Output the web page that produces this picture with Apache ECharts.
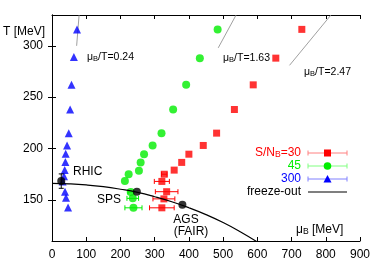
<!DOCTYPE html>
<html>
<head>
<meta charset="utf-8">
<script src="https://cdn.jsdelivr.net/npm/echarts@6/dist/echarts.min.js"></script>
<style>html,body{margin:0;padding:0;background:#fff}#c{width:382px;height:267px}</style>
</head>
<body>
<div id="c"></div>
<script>
// ---- data ----
const xTicks = [0,100,200,300,400,500,600,700,800,900];
const yTicks = [150,200,250,300];

const redMu  = [730,654,588,533,481,442,400,379,357,328,321,335,327,321];
const redT   = [316,288,262,238,215,203,194.5,186.5,179,175,168,158,151,142.3];
const redErr = [0,0,0,0,0,0,0,0,0,8,22,33,32,36];

const greenMu  = [484,432,392,354,320,294,269,259,254,224,213,230,236,238];
const greenT   = [316,288,262,238,215,203,194.5,186.5,178.5,175,168.5,157.7,151.5,142.3];
const greenErr = [0,0,0,0,0,0,0,0,0,0,0,8,17,25];

const blueMu = [73,64,57,53,49,44,40,39,37,35,31,38,41,47];
const blueT  = [316,289,262,238,215,203,195,187,179,173,168,158,152,142.5];

const foMu = [0,50,100,150,200,250,300,350,400,450,500,550,600];
const foT  = [166,165.6,164.6,162.9,160.4,157.3,153.1,148.2,142.4,135.7,128,119.1,109.1];

const fzName = ['RHIC','SPS','AGS'];
const fzMu = [27,248,381];
const fzT  = [168.3,157.9,145.4];
const fzTErr = [7,0,0];

const ratioVals = ['0.24','1.63','2.47'];
const ratioNum  = [0.24,1.63,2.47];
const ratioTLow = [300,298,281];
const ratioTHigh = [330,330,330];

// ---- build ----
const FONT = '"Liberation Sans", Arial, Helvetica, sans-serif';
const zip = (a,b) => a.map((v,i)=>[v,b[i]]);
const errData = (mu,T,e) => mu.map((m,i)=>[m-e[i], m+e[i], T[i]]).filter((d,i)=>e[i]>0);

function hErr(color){
  return function(params, api){
    const y = api.value(2);
    const p1 = api.coord([api.value(0), y]);
    const p2 = api.coord([api.value(1), y]);
    const c = 2.5;
    const st = {stroke: color, lineWidth: 1};
    return {type:'group', children:[
      {type:'line', shape:{x1:p1[0],y1:p1[1],x2:p2[0],y2:p2[1]}, style:st},
      {type:'line', shape:{x1:p1[0],y1:p1[1]-c,x2:p1[0],y2:p1[1]+c}, style:st},
      {type:'line', shape:{x1:p2[0],y1:p2[1]-c,x2:p2[0],y2:p2[1]+c}, style:st}
    ]};
  };
}
function vErr(params, api){
  const x = api.value(0);
  const p1 = api.coord([x, api.value(1)]);
  const p2 = api.coord([x, api.value(2)]);
  const c = 2.5;
  const st = {stroke:'#000', lineWidth:1};
  return {type:'group', children:[
    {type:'line', shape:{x1:p1[0],y1:p1[1],x2:p2[0],y2:p2[1]}, style:st},
    {type:'line', shape:{x1:p1[0]-c,y1:p1[1],x2:p1[0]+c,y2:p1[1]}, style:st},
    {type:'line', shape:{x1:p2[0]-c,y1:p2[1],x2:p2[0]+c,y2:p2[1]}, style:st}
  ]};
}

const ratioSeries = ratioNum.map((r,i)=>({
  type:'line', xAxisIndex:0, yAxisIndex:0, silent:true, symbol:'none', z:1,
  lineStyle:{color:'#888', width:0.8},
  data:[[r*ratioTLow[i], ratioTLow[i]],[r*ratioTHigh[i], ratioTHigh[i]]]
}));

const richMu = (fs, color) => ({
  a:{fontSize:fs, fontFamily:FONT, fill:color, color:color},
  b:{fontSize:fs*0.72, fontFamily:FONT, fill:color, color:color, verticalAlign:'bottom', padding:[0,0,0,0], lineHeight:fs*0.8}
});

function label(x,y,text,color,align,fs){
  return {type:'text', x:x, y:y, z:100, style:{text:text, fill:color, font:fs+'px '+FONT, align:align||'left', verticalAlign:'middle'}};
}
function richLabel(x,y,text,color,align,fs){
  return {type:'text', x:x, y:y, z:100, style:{text:text, fill:color, fontSize:fs, fontFamily:FONT, align:align||'left', verticalAlign:'middle', rich:richMu(fs,color)}};
}

const ratioLabelPos = [[87,57],[223,58],[304,72]];
const graphics = [
  label(45,32,'T [MeV]','#000','right',12),
  richLabel(296,230,'{a|μ}{b|B}{a| [MeV]}','#000','left',12),
  label(73,172,fzName[0],'#000','left',12),
  label(97,200,fzName[1],'#000','left',12),
  label(186,220,fzName[2],'#000','center',12),
  label(191,232,'(FAIR)','#000','center',12)
];
ratioVals.forEach((v,i)=>{
  graphics.push(richLabel(ratioLabelPos[i][0], ratioLabelPos[i][1], '{a|μ}{b|B}{a|/T='+v+'}', '#000','left',10.5));
});

// legend (drawn as graphics)
const lg = [
  {txt:'{a|S/N}{b|B}{a|=30}', color:'#ff0000', bar:'#ff8080', sym:'rect', y:153},
  {txt:'45', color:'#00ee00', bar:'#80ff80', sym:'circle', y:166},
  {txt:'300', color:'#0000ff', bar:'#8080ff', sym:'tri', y:179},
  {txt:'freeze-out', color:'#000', bar:null, sym:null, y:192}
];
lg.forEach(it=>{
  if (it.txt.indexOf('{')>=0) graphics.push(richLabel(301,it.y,it.txt,it.color,'right',12));
  else graphics.push(label(301,it.y,it.txt,it.color,'right',12));
  const x1=308, x2=347, y=it.y;
  if (it.bar){
    const st={stroke:it.bar, lineWidth:1};
    graphics.push({type:'line', z:100, shape:{x1:x1,y1:y,x2:x2,y2:y}, style:st});
    graphics.push({type:'line', z:100, shape:{x1:x1,y1:y-2.5,x2:x1,y2:y+2.5}, style:st});
    graphics.push({type:'line', z:100, shape:{x1:x2,y1:y-2.5,x2:x2,y2:y+2.5}, style:st});
    const cx=(x1+x2)/2;
    if (it.sym==='rect') graphics.push({type:'rect', z:101, shape:{x:cx-3.5,y:y-3.5,width:7,height:7}, style:{fill:it.color}});
    if (it.sym==='circle') graphics.push({type:'circle', z:101, shape:{cx:cx,cy:y,r:3.8}, style:{fill:it.color}});
    if (it.sym==='tri') graphics.push({type:'polygon', z:101, shape:{points:[[cx,y-4],[cx-4,y+3.5],[cx+4,y+3.5]]}, style:{fill:it.color}});
  } else {
    graphics.push({type:'line', z:100, shape:{x1:x1,y1:y,x2:x2,y2:y}, style:{stroke:'#000', lineWidth:1.2}});
  }
});

const axisCommon = {
  axisLine:{show:true, lineStyle:{color:'#000', width:1}},
  axisTick:{show:true, inside:true, length:4, lineStyle:{color:'#000'}},
  splitLine:{show:false}
};

const option = {
  animation:false,
  backgroundColor:'#fff',
  textStyle:{fontFamily:FONT},
  grid:{left:52, right:22, top:15, bottom:26},
  xAxis:[
    Object.assign({type:'value', min:0, max:900, interval:100, position:'bottom',
      axisLabel:{color:'#000', fontSize:12, fontFamily:FONT, margin:8,
        customValues: xTicks}}, axisCommon),
    Object.assign({type:'value', min:0, max:900, interval:100, position:'top',
      axisLabel:{show:false}}, axisCommon)
  ],
  yAxis:[
    Object.assign({type:'value', min:110, max:330, position:'left',
      axisLabel:{color:'#000', fontSize:12, fontFamily:FONT, margin:9, customValues:yTicks}},
      axisCommon, {axisTick:{show:true, inside:true, length:4, lineStyle:{color:'#000'}, customValues:yTicks}}),
    Object.assign({type:'value', min:110, max:330, position:'right',
      axisLabel:{show:false}},
      axisCommon, {axisTick:{show:true, inside:true, length:4, lineStyle:{color:'#000'}, customValues:yTicks}})
  ],
  graphic: graphics,
  series: [
    ...ratioSeries,
    {type:'custom', renderItem:hErr('#ff0000'), data:errData(redMu,redT,redErr), z:2, silent:true},
    {type:'custom', renderItem:hErr('#00ee00'), data:errData(greenMu,greenT,greenErr), z:2, silent:true},
    {type:'scatter', name:'300', symbol:'triangle', symbolSize:8, itemStyle:{color:'#0000ff'}, data:zip(blueMu,blueT), z:3},
    {type:'scatter', name:'45', symbol:'circle', symbolSize:8, itemStyle:{color:'#00ee00'}, data:zip(greenMu,greenT), z:3},
    {type:'scatter', name:'30', symbol:'rect', symbolSize:7, itemStyle:{color:'#ff0000'}, data:zip(redMu,redT), z:3},
    {type:'line', name:'freeze-out', symbol:'none', smooth:true, clip:true, lineStyle:{color:'#000', width:1.2}, data:zip(foMu,foT), z:4},
    {type:'custom', renderItem:vErr, data:fzMu.map((m,i)=>[m, fzT[i]-fzTErr[i], fzT[i]+fzTErr[i]]).filter((d,i)=>fzTErr[i]>0), z:4, silent:true},
    {type:'scatter', symbol:'circle', symbolSize:8, itemStyle:{color:'#000'}, data:zip(fzMu,fzT), z:5}
  ]
};
const chart = echarts.init(document.getElementById('c'), null, {renderer:'canvas'});
chart.setOption(option);
</script>
</body>
</html>
